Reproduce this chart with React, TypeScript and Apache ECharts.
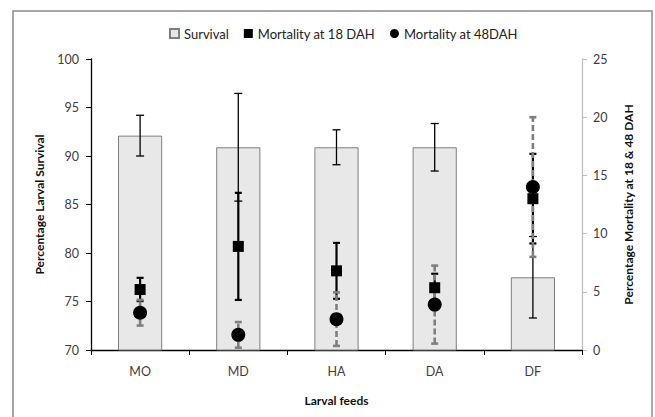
import React, { useEffect, useRef } from "react";
import * as echarts from "echarts";

const categories = ["MO", "MD", "HA", "DA", "DF"];
const survival = [92.1, 90.9, 90.9, 90.9, 77.5];
const survivalErr = [2.1, 5.55, 1.8, 2.45, 4.2];
const mort18 = [5.2, 8.9, 6.8, 5.35, 13.0];
const mort18Err = [1.0, 4.6, 2.4, 1.2, 3.85];
const mort48 = [3.2, 1.3, 2.65, 3.9, 14.0];
const mort48Err = [1.1, 1.1, 2.3, 3.35, 6.0];
const leftTicks = { min: 70, max: 100, interval: 5 };
const rightTicks = { min: 0, max: 25, interval: 5 };

const FONT = "Lato, 'Liberation Sans', sans-serif";

function makeErr(color: string, width: number, cap: number, dash?: number[]) {
  return (params: any, api: any) => {
    const x = api.value(0);
    const lo = api.coord([x, api.value(1)]);
    const hi = api.coord([x, api.value(2)]);
    const capStyle = { stroke: color, lineWidth: width, fill: "none" };
    return {
      type: "group",
      children: [
        {
          type: "line",
          shape: { x1: lo[0], y1: lo[1], x2: hi[0], y2: hi[1] },
          style: { stroke: color, lineWidth: width, lineDash: dash || null, fill: "none" },
        },
        { type: "line", shape: { x1: lo[0] - cap, y1: lo[1], x2: lo[0] + cap, y2: lo[1] }, style: capStyle },
        { type: "line", shape: { x1: hi[0] - cap, y1: hi[1], x2: hi[0] + cap, y2: hi[1] }, style: capStyle },
      ],
    };
  };
}

export default function App() {
  const ref = useRef<HTMLDivElement>(null);
  useEffect(() => {
    document.body.style.margin = "0";
    const chart = echarts.init(ref.current!, null, { renderer: "svg" });
    const errData = (vals: number[], errs: number[]) =>
      vals.map((v, i) => [i, +(v - errs[i]).toFixed(3), +(v + errs[i]).toFixed(3)]);
    chart.setOption({
      animation: false,
      textStyle: { fontFamily: FONT },
      graphic: [
        {
          type: "rect",
          shape: { x: 13, y: 11, width: 639, height: 420 },
          style: { fill: "none", stroke: "#8c8c8c", lineWidth: 1.5 },
          silent: true,
        },
      ],
      legend: {
        top: 22,
        left: 164,
        itemWidth: 9,
        itemHeight: 9,
        itemGap: 15,
        textStyle: { fontFamily: FONT, fontSize: 13, color: "#222" },
        data: [
          { name: "Survival", icon: "rect" },
          { name: "Mortality at 18 DAH", icon: "rect" },
          { name: "Mortality at 48DAH", icon: "circle" },
        ],
      },
      grid: { left: 91, right: 73, top: 59, bottom: 67 },
      xAxis: {
        type: "category",
        data: categories,
        name: "Larval feeds",
        nameLocation: "middle",
        nameGap: 44,
        nameTextStyle: { fontFamily: FONT, fontWeight: "bold", fontSize: 12, color: "#111" },
        axisLine: { lineStyle: { color: "#000", width: 1.3 } },
        axisTick: { show: true, length: 5, lineStyle: { color: "#000" } },
        axisLabel: { fontFamily: FONT, fontSize: 12.5, color: "#404040", margin: 15 },
      },
      yAxis: [
        {
          type: "value",
          ...leftTicks,
          name: "Percentage Larval Survival",
          nameLocation: "middle",
          nameRotate: 90,
          nameGap: 46,
          nameTextStyle: { fontFamily: FONT, fontWeight: "bold", fontSize: 12, color: "#111" },
          axisLine: { show: true, lineStyle: { color: "#000", width: 1.3 } },
          axisTick: { show: true, length: 5, lineStyle: { color: "#000" } },
          axisLabel: { fontFamily: FONT, fontSize: 12.5, color: "#404040", margin: 12 },
          splitLine: { show: false },
        },
        {
          type: "value",
          ...rightTicks,
          position: "right",
          name: "Percentage Mortality at 18 & 48 DAH",
          nameLocation: "middle",
          nameRotate: 90,
          nameGap: 40,
          nameTextStyle: { fontFamily: FONT, fontWeight: "bold", fontSize: 12, color: "#111" },
          axisLine: { show: true, lineStyle: { color: "#bfbfbf", width: 1.3 } },
          axisTick: { show: true, length: 5, lineStyle: { color: "#bfbfbf" } },
          axisLabel: { fontFamily: FONT, fontSize: 12.5, color: "#404040", margin: 11 },
          splitLine: { show: false },
        },
      ],
      series: [
        {
          name: "Survival",
          type: "bar",
          yAxisIndex: 0,
          data: survival,
          barWidth: "45%",
          clip: true,
          z: 1,
          itemStyle: { color: "#e8e8e8", borderColor: "#7f7f7f", borderWidth: 1 },
        },
        {
          type: "custom",
          yAxisIndex: 0,
          z: 2,
          renderItem: makeErr("#000", 1.3, 4, undefined),
          encode: { x: 0, y: [1, 2] },
          data: errData(survival, survivalErr),
        },
        {
          type: "custom",
          yAxisIndex: 1,
          z: 3,
          renderItem: makeErr("#000", 2.2, 3.5, undefined),
          encode: { x: 0, y: [1, 2] },
          data: errData(mort18, mort18Err),
        },
        {
          type: "custom",
          yAxisIndex: 1,
          z: 4,
          renderItem: makeErr("#7f7f7f", 2.6, 3.5, [6, 3]),
          encode: { x: 0, y: [1, 2] },
          data: errData(mort48, mort48Err),
        },
        {
          name: "Mortality at 18 DAH",
          type: "scatter",
          yAxisIndex: 1,
          symbol: "rect",
          symbolSize: 11,
          z: 5,
          itemStyle: { color: "#000", opacity: 1 },
          data: mort18,
        },
        {
          name: "Mortality at 48DAH",
          type: "scatter",
          yAxisIndex: 1,
          symbol: "circle",
          symbolSize: 14,
          z: 6,
          itemStyle: { color: "#000", opacity: 1 },
          data: mort48,
        },
      ],
    });
    return () => chart.dispose();
  }, []);
  return <div ref={ref} style={{ width: 655, height: 417 }} />;
}
